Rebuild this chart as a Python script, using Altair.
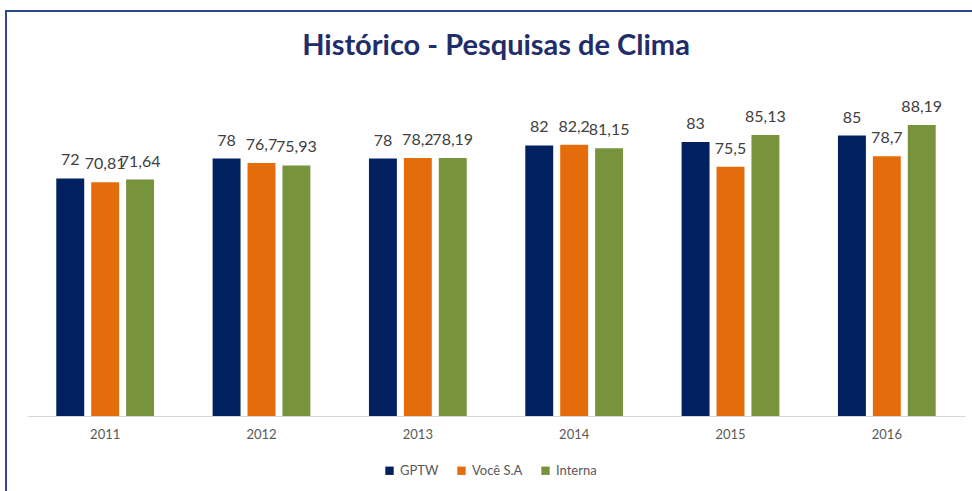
import altair as alt
import pandas as pd

years = ["2011", "2012", "2013", "2014", "2015", "2016"]
series = ["GPTW", "Você S.A", "Interna"]
gptw = [72, 78, 78, 82, 83, 85]
voce = [70.81, 76.7, 78.2, 82.2, 75.5, 78.7]
interna = [71.64, 75.93, 78.19, 81.15, 85.13, 88.19]
colors = ["#002060", "#E46C0A", "#77933C"]
title_text = "Histórico - Pesquisas de Clima"

rows = []
for s, vals in zip(series, [gptw, voce, interna]):
    for y, v in zip(years, vals):
        rows.append({"ano": y, "serie": s, "valor": v,
                     "rotulo": (f"{v:g}").replace(".", ",")})
df = pd.DataFrame(rows)

x = alt.X("ano:N", title=None, sort=years,
          scale=alt.Scale(paddingInner=0.33, paddingOuter=0.165),
          axis=alt.Axis(labelAngle=0, labelColor="#595959", labelFont="Lato",
                        labelFontSize=13, labelPadding=12, ticks=False,
                        domainColor="#D9D9D9", domainWidth=1))
xo = alt.XOffset("serie:N", sort=series,
                 scale=alt.Scale(paddingInner=0.2, paddingOuter=0.1))
y = alt.Y("valor:Q", scale=alt.Scale(domain=[0, 100]), axis=None)
color = alt.Color("serie:N", sort=series,
                  scale=alt.Scale(domain=series, range=colors),
                  legend=alt.Legend(title=None, orient="none", direction="horizontal",
                                    legendX=356, legendY=378,
                                    symbolType="square", symbolSize=70,
                                    labelFont="Lato", labelFontSize=13,
                                    labelColor="#595959", columnPadding=16))

bars = alt.Chart(df).mark_bar().encode(x=x, xOffset=xo, y=y, color=color)
labels = alt.Chart(df).mark_text(dy=-18, font="Lato", fontSize=16,
                                 color="#404040").encode(
    x=x, xOffset=xo, y=y, text="rotulo:N")

frame = alt.Chart(df).mark_rect(filled=False, stroke="#2F4A8A",
                                strokeWidth=1.5).encode(
    x=alt.value(-21), x2=alt.value(1010),
    y=alt.value(-75), y2=alt.value(600))

title = alt.Chart(pd.DataFrame({"t": [title_text]})).mark_text(
    font="Lato", fontSize=29, fontWeight="bold", color="#1F2D6B",
    baseline="middle", align="center").encode(
    text="t:N", x=alt.value(469), y=alt.value(-40))

chart = alt.layer(frame, bars, labels, title).properties(
    width=938, height=330,
    autosize=alt.AutoSizeParams(type="none"),
    padding={"left": 27, "top": 86, "right": 7, "bottom": 75},
    background="white",
).configure_view(stroke=None, strokeWidth=0)

chart.save("out.html", embed_options={"renderer": "svg", "actions": False})
